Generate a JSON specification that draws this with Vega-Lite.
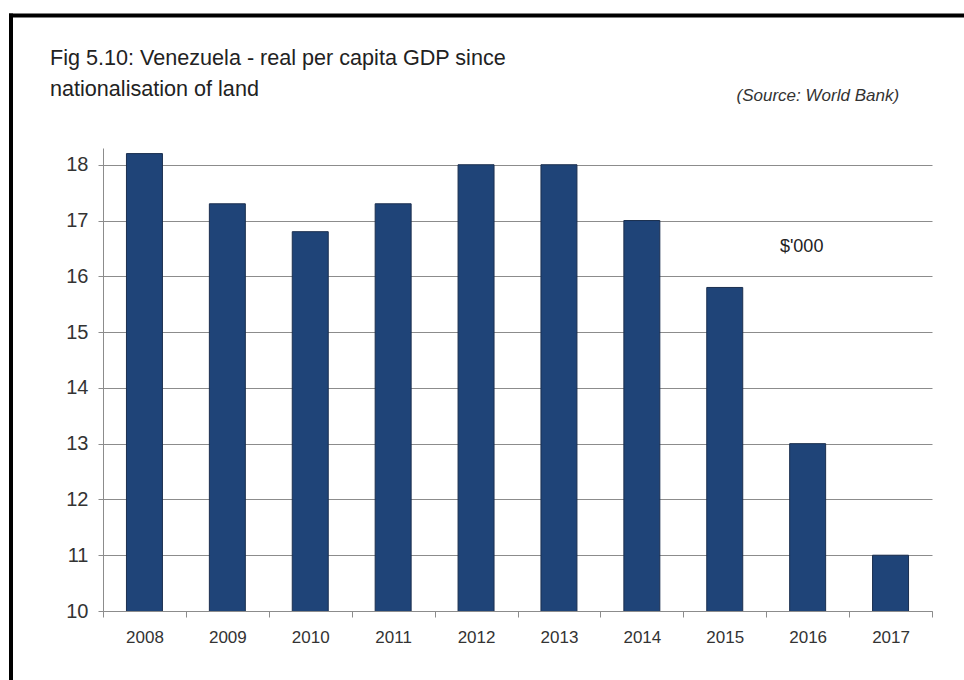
{
  "$schema": "https://vega.github.io/schema/vega-lite/v6.json",
  "width": 829,
  "height": 463,
  "autosize": {"type": "none"},
  "padding": {"left": 103, "top": 148, "right": 32, "bottom": 69},
  "background": "white",
  "config": {"view": {"stroke": null}, "font": "Liberation Sans"},
  "title": {
    "text": ["Fig 5.10: Venezuela - real per capita GDP since", "nationalisation of land"],
    "anchor": "start",
    "frame": "group",
    "dx": -53,
    "offset": -89,
    "fontSize": 21.6,
    "fontWeight": "normal",
    "font": "Liberation Sans",
    "color": "#222222",
    "lineHeight": 31
  },
  "datasets": {
    "gdp": [
      {"year": "2008", "gdp": 18.2},
      {"year": "2009", "gdp": 17.3},
      {"year": "2010", "gdp": 16.8},
      {"year": "2011", "gdp": 17.3},
      {"year": "2012", "gdp": 18.0},
      {"year": "2013", "gdp": 18.0},
      {"year": "2014", "gdp": 17.0},
      {"year": "2015", "gdp": 15.8},
      {"year": "2016", "gdp": 13.0},
      {"year": "2017", "gdp": 11.0}
    ],
    "unit": [{"year": "2016", "value": 16.52, "label": "$'000"}],
    "source": [{"year": "2017", "value": 19.14, "label": "(Source: World Bank)"}],
    "frame": [{}]
  },
  "layer": [
    {
      "data": {"name": "gdp"},
      "mark": {"type": "bar", "clip": true, "width": {"band": 0.434}, "fill": "#1F4478", "stroke": "#1B2F4F", "strokeWidth": 1},
      "encoding": {
        "x": {
          "field": "year",
          "type": "ordinal",
          "scale": {"paddingInner": 0, "paddingOuter": 0},
          "axis": {
            "title": null,
            "labelAngle": 0,
            "tickBand": "extent",
            "labelFontSize": 17,
            "labelFont": "Liberation Sans",
            "labelColor": "#333333",
            "labelPadding": 12,
            "tickSize": 6,
            "tickColor": "#8c8c8c",
            "domainColor": "#8c8c8c",
            "grid": false
          }
        },
        "y": {
          "field": "gdp",
          "type": "quantitative",
          "scale": {"domain": [10, 18.3], "nice": false, "zero": false},
          "axis": {
            "title": null,
            "values": [10, 11, 12, 13, 14, 15, 16, 17, 18],
            "format": "d",
            "grid": true,
            "gridColor": "#8c8c8c",
            "gridOpacity": 1,
            "tickColor": "#8c8c8c",
            "domainColor": "#8c8c8c",
            "tickSize": 5,
            "labelFontSize": 20,
            "labelFont": "Liberation Sans",
            "labelColor": "#333333",
            "labelPadding": 10
          }
        }
      }
    },
    {
      "data": {"name": "unit"},
      "mark": {"type": "text", "fontSize": 18, "font": "Liberation Sans", "color": "#222222", "baseline": "middle", "align": "center", "dx": -6},
      "encoding": {
        "x": {"field": "year", "type": "ordinal"},
        "y": {"field": "value", "type": "quantitative"},
        "text": {"field": "label"}
      }
    },
    {
      "data": {"name": "source"},
      "mark": {"type": "text", "fontSize": 17, "fontStyle": "italic", "font": "Liberation Sans", "color": "#333333", "baseline": "alphabetic", "align": "right", "dx": 8.5},
      "encoding": {
        "x": {"field": "year", "type": "ordinal"},
        "y": {"field": "value", "type": "quantitative"},
        "text": {"field": "label"}
      }
    },
    {
      "data": {"name": "frame"},
      "mark": {"type": "rule", "color": "black", "strokeWidth": 4},
      "encoding": {
        "x": {"value": -92},
        "y": {"value": -134.5},
        "y2": {"value": 532}
      }
    },
    {
      "data": {"name": "frame"},
      "mark": {"type": "rule", "color": "black", "strokeWidth": 4},
      "encoding": {
        "y": {"value": -132.5},
        "x": {"value": -94},
        "x2": {"value": 861}
      }
    }
  ]
}
